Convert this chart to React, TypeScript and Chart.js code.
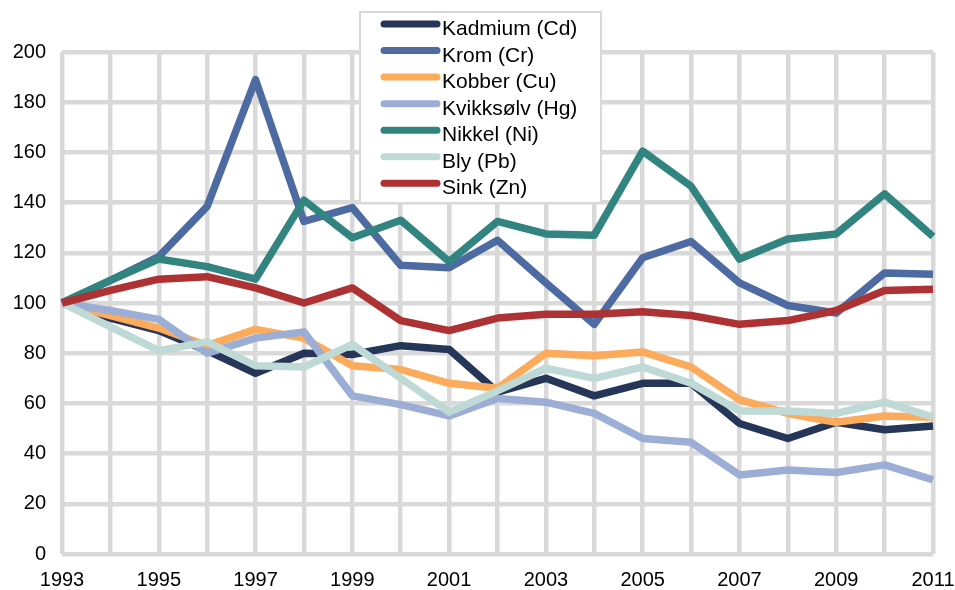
import React, { useEffect, useRef } from "react";
import { Chart, registerables } from "chart.js";

Chart.register(...registerables);

const years = ["1993","1994","1995","1996","1997","1998","1999","2000","2001","2002","2003","2004","2005","2006","2007","2008","2009","2010","2011"];

const seriesNames = ["Kadmium (Cd)", "Krom (Cr)", "Kobber (Cu)", "Kvikksølv (Hg)", "Nikkel (Ni)", "Bly (Pb)", "Sink (Zn)"];
const seriesColors = ["#253658", "#4e6aa3", "#fcaa5b", "#9caed6", "#31847f", "#bed9d6", "#ae3234"];

const cadmium = [100, 94, 89, 81, 72, 80, 79.5, 83, 81.5, 64.5, 70, 63, 68, 68, 52, 46, 52.5, 49.5, 51];
const krom = [100, 109, 118.5, 138.5, 189, 132.5, 138, 115, 114, 125, 108, 91.5, 118, 124.5, 108, 99, 96, 112, 111.5];
const kobber = [100, 95, 90, 83, 89.5, 86, 75, 73.5, 68, 66, 80, 79, 80.5, 74.5, 61.5, 56, 52.5, 55, 54.5];
const kvikksolv = [100, 97, 93.5, 80, 86, 88.5, 63, 59.5, 55, 62, 60.5, 56, 46, 44.5, 31.5, 33.5, 32.5, 35.5, 29.5];
const nikkel = [100, 109, 117.5, 114.5, 109.5, 141, 126, 133, 116.5, 132.5, 127.5, 127, 160.5, 146.5, 117.5, 125.5, 127.5, 143.5, 126.5];
const bly = [100, 90.5, 81, 84.5, 75, 74.5, 83.5, 70, 56.5, 65, 74, 70, 74.5, 68, 57, 57, 56, 60.5, 54.5];
const sink = [100, 105, 109.5, 110.5, 106, 100, 106, 93, 89, 94, 95.5, 95.5, 96.5, 95, 91.5, 93, 97, 105, 105.5];

const seriesValues = [cadmium, krom, kobber, kvikksolv, nikkel, bly, sink];

const FONT = "'Liberation Sans', Arial, sans-serif";

const legendPlugin = {
  id: "boxLegend",
  afterDatasetsDraw(chart: any) {
    const ctx = chart.ctx;
    ctx.save();
    const x0 = 360, y0 = 12, w = 241, h = 191;
    ctx.fillStyle = "#ffffff";
    ctx.fillRect(x0, y0, w, h);
    ctx.strokeStyle = "#d9d9d9";
    ctx.lineWidth = 2;
    ctx.strokeRect(x0, y0, w, h);
    chart.data.datasets.forEach((ds: any, i: number) => {
      const cy = 24 + i * 26.55;
      ctx.strokeStyle = ds.borderColor;
      ctx.lineWidth = 7;
      ctx.lineCap = "round";
      ctx.beginPath();
      ctx.moveTo(384, cy);
      ctx.lineTo(437, cy);
      ctx.stroke();
      ctx.fillStyle = "#000000";
      ctx.font = `21px ${FONT}`;
      ctx.textBaseline = "alphabetic";
      ctx.textAlign = "left";
      ctx.fillText(ds.label, 442, cy + 11);
    });
    ctx.restore();
  },
};

export default function App() {
  const ref = useRef<HTMLCanvasElement | null>(null);
  useEffect(() => {
    document.body.style.margin = "0";
    if (!ref.current) return;
    const n = seriesNames.length;
    const chart = new Chart(ref.current, {
      type: "line",
      data: {
        labels: years,
        datasets: seriesNames.map((name, i) => ({
          label: name,
          data: seriesValues[i],
          borderColor: seriesColors[i],
          backgroundColor: seriesColors[i],
          borderWidth: 7.5,
          pointRadius: 0,
          pointHoverRadius: 0,
          borderJoinStyle: "round" as const,
          borderCapStyle: "butt" as const,
          tension: 0,
          fill: false,
          order: n - i,
        })),
      },
      options: {
        animation: false,
        responsive: true,
        maintainAspectRatio: false,
        layout: { padding: { top: 52, right: 22, left: 0, bottom: 0 } },
        plugins: {
          legend: { display: false },
          tooltip: { enabled: false },
        },
        scales: {
          x: {
            type: "category",
            offset: false,
            grid: { color: "#d9d9d9", lineWidth: 4.5, drawTicks: false },
            border: { display: false },
            ticks: {
              autoSkip: false,
              maxRotation: 0,
              minRotation: 0,
              padding: 14,
              color: "#000000",
              font: { family: FONT, size: 20 },
              callback: (_v: any, idx: number) => (idx % 2 === 0 ? years[idx] : ""),
            },
            afterFit: (scale: any) => {
              scale.height = 36;
              scale.paddingRight = 0;
              scale.paddingLeft = 0;
            },
          },
          y: {
            min: 0,
            max: 200,
            grid: { color: "#d9d9d9", lineWidth: 4.5, drawTicks: false },
            border: { display: false },
            ticks: {
              stepSize: 20,
              padding: 16,
              color: "#000000",
              font: { family: FONT, size: 20 },
            },
            afterFit: (scale: any) => {
              scale.width = 62;
              scale.paddingTop = 0;
              scale.paddingBottom = 0;
            },
          },
        },
      },
      plugins: [legendPlugin],
    });
    return () => chart.destroy();
  }, []);
  return (
    <div style={{ position: "relative", width: 955, height: 590 }}>
      <canvas ref={ref} />
    </div>
  );
}
